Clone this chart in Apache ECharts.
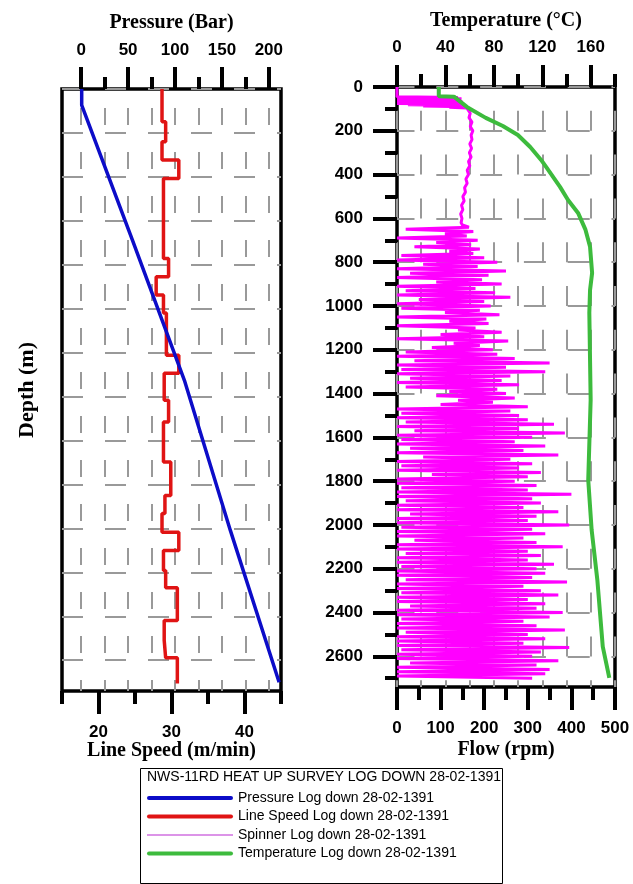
<!DOCTYPE html>
<html>
<head>
<meta charset="utf-8">
<script src="https://cdn.jsdelivr.net/npm/echarts@6.0.0/dist/echarts.min.js"></script>
<style>
  html, body { margin: 0; padding: 0; background: #fff; }
  #chart { width: 633px; height: 884px; }
</style>
</head>
<body>
<div id="chart"></div>
<script>
// depth (m) / value pairs
const pressureDepth = [0, 73, 688, 1326, 2009, 2700];
const pressureBar = [0.5, 0.5, 54.6, 110, 159, 211];

// line speed is a step log: value i holds between depth i and depth i+1
const speedDepth = [0, 149, 240, 323, 407, 771, 855, 938, 1020, 1212, 1294, 1417, 1516, 1698, 1850, 1932, 2017, 2100, 2191, 2270, 2419, 2510, 2589, 2706];
const speedValue = [28.7, 29.2, 28.7, 31.0, 28.9, 29.6, 27.9, 28.9, 29.3, 31.0, 29.0, 29.6, 28.9, 29.9, 29.1, 28.7, 31.0, 28.9, 29.2, 30.8, 29.0, 29.2, 30.8];

const tempDepth = [0, 42, 44, 91, 141, 178, 219, 274, 333, 365, 456, 516, 575, 650, 730, 849, 927, 1031, 1429, 1794, 2022, 2250, 2556, 2698];
const tempValue = [34.5, 34.5, 47, 57.7, 73.3, 87.4, 99.8, 110, 119, 123.1, 134.6, 141.2, 149.5, 155.5, 159.4, 161.1, 159.4, 158.8, 159.9, 157.9, 160.7, 165.4, 169.9, 175.3];

// spinner, upper part
const spinTopDepth = [0, 45, 48, 51, 54, 57, 60, 63, 66, 69, 72, 75, 78, 81, 84, 87, 90, 93, 96,
  100, 120, 140, 160, 180, 200, 220, 240, 260, 280, 300, 320, 340, 360, 380, 400, 420, 440, 460, 480, 500, 520, 540, 560, 580, 600, 620];
const spinTopFlow = [0, 0, 140, 0, 148, 5, 142, 0, 150, 15, 145, 0, 152, 25, 148, 60, 155, 120, 160,
  162, 168, 165, 172, 168, 174, 170, 172, 167, 171, 166, 170, 164, 167, 161, 164, 158, 161, 155, 157, 151, 154, 148, 151, 146, 149, 147];

// spinner, noisy part: low reading at spinStart + 20*i, high reading 10 m below
const spinStart = 630;
const spinLow = [
  150, 20, 110, 0, 90, 40, 120,
  10, 0, 60, 0, 30, 0, 90, 0, 20, 0, 50, 0, 10, 110, 0,
  120, 0, 140, 100, 0, 130, 80,
  20, 0, 40, 0, 10,
  0, 30, 0, 20, 120, 90, 140, 100, 0, 10,
  0, 20, 0, 40, 0, 10, 0, 30, 0, 60, 0, 10, 0, 80, 0,
  0, 10, 0, 0, 20, 0, 0, 30, 0, 0, 10, 0, 0, 40, 0, 0, 20, 0, 0, 10,
  0, 0, 20, 0, 0, 10, 0, 0, 30, 0,
  0, 10, 0, 0, 20, 0, 0, 0, 10, 0, 0, 30, 0, 0, 0
];
const spinHigh = [
  165, 175, 160, 185, 170, 190, 175,
  200, 230, 185, 250, 210, 195, 240, 180, 225, 260, 200, 215, 190, 235, 205,
  210, 180, 240, 200, 255, 190, 220,
  230, 270, 350, 250, 340,
  260, 240, 280, 230, 250, 270, 220, 300, 260, 280,
  300, 360, 280, 385, 310, 270, 340, 290, 370, 260, 310, 280, 330, 300, 270,
  320, 300, 400, 310, 330, 290, 370, 320, 300, 395, 310, 340, 290, 320, 380, 300, 330, 300, 360, 320,
  340, 310, 390, 290, 330, 370, 300, 340, 320, 380,
  350, 290, 320, 385, 300, 340, 290, 395, 330, 310, 370, 320, 350, 340, 310
];

// tick values
const pressureTicks = [0, 50, 100, 150, 200];
const pressureMinor = [0, 25, 50, 75, 100, 125, 150, 175, 200];
const speedTicks = [20, 30, 40];
const speedMinor = [15, 25, 35, 45];
const tempTicks = [0, 40, 80, 120, 160];
const tempMinor = [0, 20, 40, 60, 80, 100, 120, 140, 160, 180];
const flowTicks = [0, 100, 200, 300, 400, 500];
const flowMinor = [50, 150, 250, 350, 450];
const depthTicks = [0, 200, 400, 600, 800, 1000, 1200, 1400, 1600, 1800, 2000, 2200, 2400, 2600];
const depthMinor = [100, 300, 500, 700, 900, 1100, 1300, 1500, 1700, 1900, 2100, 2300, 2500, 2700];

const pressureData = pressureDepth.map((d, i) => [pressureBar[i], d]);
const speedData = [];
speedValue.forEach((v, i) => {
  speedData.push([v, speedDepth[i]]);
  speedData.push([v, speedDepth[i + 1]]);
});
const tempData = tempDepth.map((d, i) => [tempValue[i], d]);
const spinData = spinTopDepth.map((d, i) => [spinTopFlow[i], d]);
spinLow.forEach((v, i) => {
  spinData.push([v, spinStart + i * 20]);
  spinData.push([spinHigh[i], spinStart + i * 20 + 10]);
});

const chart = echarts.init(document.getElementById('chart'));

const labelFont = { color: '#000', fontFamily: 'Liberation Sans', fontWeight: 'bold', fontSize: 17 };
const nameFont = { color: '#000', fontFamily: 'Liberation Serif', fontWeight: 'bold', fontSize: 20 };
const gridLine = { color: '#999', width: 2 };
const thickIcon = 'path://M2,0H84A2,2,0,0,1,84,4H2A2,2,0,0,1,2,0Z';

function xAxis(grid, position, min, max, ticks, tickLen, opts) {
  return Object.assign({
    type: 'value',
    gridIndex: grid,
    position: position,
    min: min,
    max: max,
    nameMoveOverlap: false,
    axisLine: { show: false, onZero: false },
    axisTick: { show: true, inside: false, length: tickLen, customValues: ticks, lineStyle: { color: '#000', width: 4 } },
    axisLabel: { show: false },
    splitLine: { show: false }
  }, opts || {});
}

const option = {
  animation: false,
  backgroundColor: '#fff',
  grid: [
    { left: 62, top: 89, width: 219, height: 602, show: true, borderColor: '#000', borderWidth: 3.5, outerBoundsMode: 'none' },
    { left: 397, top: 87, width: 218, height: 600, show: true, borderColor: '#000', borderWidth: 3.5, outerBoundsMode: 'none' }
  ],
  xAxis: [
    // 0 pressure
    xAxis(0, 'top', -20.5, 213, pressureTicks, 22, {
      name: 'Pressure (Bar)', nameLocation: 'middle', nameGap: 56, nameTextStyle: nameFont,
      axisLabel: Object.assign({ show: true, margin: 30, customValues: pressureTicks }, labelFont)
    }),
    // 1 pressure minor ticks + vertical grid
    xAxis(0, 'top', -20.5, 213, pressureMinor, 12, {
      splitLine: { show: true, lineStyle: Object.assign({ type: [17, 27], dashOffset: 25 }, gridLine) }
    }),
    // 2 line speed
    xAxis(0, 'bottom', 15, 45, speedTicks, 23, {
      name: 'Line Speed (m/min)', nameLocation: 'middle', nameGap: 50, nameTextStyle: nameFont,
      axisLabel: Object.assign({ show: true, margin: 33, customValues: speedTicks }, labelFont)
    }),
    // 3 line speed minor
    xAxis(0, 'bottom', 15, 45, speedMinor, 13),
    // 4 temperature
    xAxis(1, 'top', 0, 180, tempTicks, 22, {
      name: 'Temperature (\u00B0C)', nameLocation: 'middle', nameGap: 56, nameTextStyle: nameFont,
      axisLabel: Object.assign({ show: true, margin: 31, customValues: tempTicks }, labelFont)
    }),
    // 5 temperature minor + vertical grid
    xAxis(1, 'top', 0, 180, tempMinor, 13, {
      splitLine: { show: true, lineStyle: Object.assign({ type: [20, 23.8], dashOffset: 20 }, gridLine) }
    }),
    // 6 flow
    xAxis(1, 'bottom', 0, 500, flowTicks, 23, {
      name: 'Flow (rpm)', nameLocation: 'middle', nameGap: 53, nameTextStyle: nameFont,
      axisLabel: Object.assign({ show: true, margin: 33, customValues: flowTicks }, labelFont)
    }),
    // 7 flow minor
    xAxis(1, 'bottom', 0, 500, flowMinor, 13)
  ],
  yAxis: [
    {
      type: 'value', gridIndex: 0, inverse: true, min: 0, max: 2740,
      name: 'Depth (m)', nameLocation: 'middle', nameGap: 24, nameRotate: 90, nameMoveOverlap: false,
      nameTextStyle: Object.assign({}, nameFont, { fontSize: 22 }),
      axisLine: { show: false, onZero: false },
      axisTick: { show: false, customValues: depthTicks },
      axisLabel: { show: false },
      splitLine: { show: true, lineStyle: Object.assign({ type: [21, 22], dashOffset: 0 }, gridLine) }
    },
    {
      type: 'value', gridIndex: 1, inverse: true, min: 0, max: 2740, position: 'left',
      axisLine: { show: false, onZero: false },
      axisTick: { show: true, inside: false, length: 24, customValues: depthTicks, lineStyle: { color: '#000', width: 4 } },
      axisLabel: Object.assign({ show: true, margin: 34, customValues: depthTicks, formatter: v => String(v) }, labelFont),
      splitLine: { show: true, lineStyle: Object.assign({ type: [22, 21.8], dashOffset: 4.5 }, gridLine) }
    },
    {
      type: 'value', gridIndex: 1, inverse: true, min: 0, max: 2740, position: 'left',
      axisLine: { show: false, onZero: false },
      axisTick: { show: true, inside: false, length: 12, customValues: depthMinor, lineStyle: { color: '#000', width: 4 } },
      axisLabel: { show: false },
      splitLine: { show: false }
    }
  ],
  legend: {
    orient: 'vertical',
    left: 147,
    top: 791,
    padding: 0,
    itemWidth: 86,
    itemHeight: 14,
    itemGap: 4.5,
    selectedMode: false,
    textStyle: { color: '#000', fontFamily: 'Liberation Sans', fontSize: 14 },
    data: [
      { name: 'Pressure Log down 28-02-1391', icon: thickIcon },
      { name: 'Line Speed Log down 28-02-1391', icon: thickIcon },
      { name: 'Spinner Log down 28-02-1391', icon: 'path://M0,0H86V1.6H0Z', itemStyle: { color: '#d070e0' } },
      { name: 'Temperature Log down 28-02-1391', icon: thickIcon }
    ]
  },
  graphic: [
    {
      type: 'rect', left: 140, top: 768, z: -1,
      shape: { width: 362, height: 115 },
      style: { fill: 'transparent', stroke: '#000', lineWidth: 1 }
    },
    {
      type: 'text', left: 147, top: 770,
      style: { text: 'NWS-11RD HEAT UP SURVEY LOG DOWN 28-02-1391', fill: '#000', font: '14px "Liberation Sans"' }
    }
  ],
  series: [
    {
      name: 'Pressure Log down 28-02-1391', type: 'line', xAxisIndex: 0, yAxisIndex: 0,
      data: pressureData, symbol: 'none', z: 4,
      itemStyle: { color: '#0c0cc8' }, lineStyle: { color: '#0c0cc8', width: 3.5 }
    },
    {
      name: 'Line Speed Log down 28-02-1391', type: 'line', xAxisIndex: 2, yAxisIndex: 0,
      data: speedData, symbol: 'none', z: 3,
      itemStyle: { color: '#e01414' }, lineStyle: { color: '#e01414', width: 3.5 }
    },
    {
      name: 'Spinner Log down 28-02-1391', type: 'line', xAxisIndex: 6, yAxisIndex: 1,
      data: spinData, symbol: 'none', z: 3,
      itemStyle: { color: '#ff00ff' }, lineStyle: { color: '#ff00ff', width: 3 }
    },
    {
      name: 'Temperature Log down 28-02-1391', type: 'line', xAxisIndex: 4, yAxisIndex: 1,
      data: tempData, symbol: 'none', z: 4,
      itemStyle: { color: '#3dbb3d' }, lineStyle: { color: '#3dbb3d', width: 4 }
    }
  ]
};

chart.setOption(option);
</script>
</body>
</html>
